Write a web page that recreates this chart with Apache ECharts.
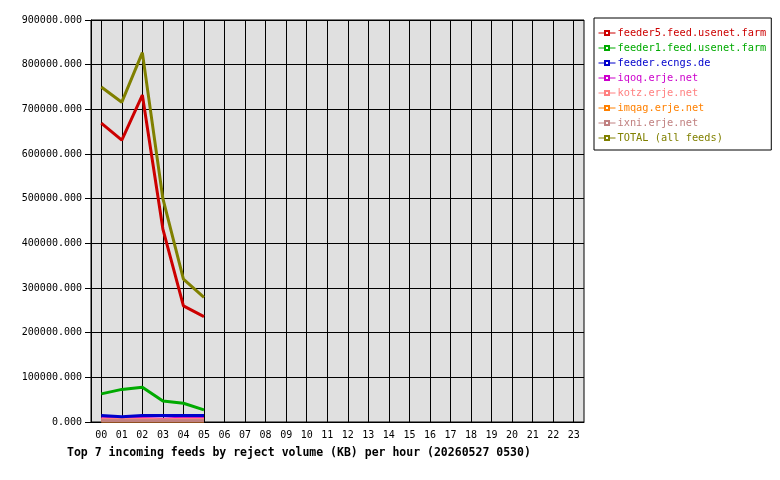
<!DOCTYPE html>
<html>
<head>
<meta charset="utf-8">
<script src="https://cdn.jsdelivr.net/npm/echarts@6/dist/echarts.min.js"></script>
<style>
    html, body { margin: 0; padding: 0; background: #fff; }
    #chart { width: 780px; height: 480px; }
</style>
</head>
<body>
<div id="chart"></div>
<script>
// hours on the x axis
var hours = ['00', '01', '02', '03', '04', '05', '06', '07', '08', '09', '10', '11',
    '12', '13', '14', '15', '16', '17', '18', '19', '20', '21', '22', '23'];

// reject volume in KB, only hours 00..05 have data
var feeder5 = [669000, 631000, 732000, 432000, 260000, 236000];
var feeder1 = [63000, 73000, 78000, 47000, 42000, 27000];
var ecngs = [14500, 12000, 14500, 14500, 14500, 14500];
var iqoq = [7000, 9000, 8000, 6000, 9000, 8000];
var kotz = [6000, 6000, 6000, 5000, 6000, 6000];
var imqag = [2000, 2000, 2000, 2000, 2000, 2000];
var ixni = [3000, 3000, 3000, 3000, 3000, 3000];
var total = [750000, 716000, 827000, 500000, 320000, 279000];

var feedNames = ['feeder5.feed.usenet.farm', 'feeder1.feed.usenet.farm', 'feeder.ecngs.de',
    'iqoq.erje.net', 'kotz.erje.net', 'imqag.erje.net', 'ixni.erje.net', 'TOTAL (all feeds)'];
var feedValues = [feeder5, feeder1, ecngs, iqoq, kotz, imqag, ixni, total];
var feedColors = ['#cc0000', '#00aa00', '#0000cc', '#cc00cc', '#ff8080', '#ff8000', '#c08080', '#808000'];
// draw order: small feeds first, big ones on top
var feedZ = [20, 18, 17, 12, 13, 11, 14, 19];

var font = 'DejaVu Sans Mono';

var chart = echarts.init(document.getElementById('chart'));

var series = feedNames.map(function (name, i) {
    return {
        name: name,
        type: 'line',
        data: feedValues[i],
        color: feedColors[i],
        symbol: 'emptyRect',
        symbolSize: 4,
        showSymbol: false,
        lineStyle: { width: 3, color: feedColors[i] },
        z: feedZ[i],
        animation: false
    };
});

chart.setOption({
    animation: false,
    backgroundColor: '#ffffff',
    title: {
        text: 'Top 7 incoming feeds by reject volume (KB) per hour (20260527 0530)',
        left: 62,
        top: 442,
        textStyle: { fontFamily: font, fontSize: 11.5, fontWeight: 'bold', color: '#000' }
    },
    legend: {
        orient: 'vertical',
        left: 594,
        top: 18,
        padding: [9, 5, 6, 4],
        itemGap: 3,
        itemWidth: 17,
        itemHeight: 5,
        borderColor: '#000',
        borderWidth: 1,
        backgroundColor: '#fff',
        lineStyle: { width: 1 },
        itemStyle: { borderWidth: 1 },
        data: feedNames.map(function (name, i) {
            return { name: name, textStyle: { color: feedColors[i] } };
        }),
        textStyle: { fontFamily: font, fontSize: 10.3, lineHeight: 12, padding: [0, 0, 0, -3] }
    },
    grid: {
        left: 91,
        right: 196,
        top: 20,
        bottom: 58,
        show: true,
        backgroundColor: '#e0e0e0',
        borderColor: '#000',
        borderWidth: 1
    },
    xAxis: {
        type: 'category',
        data: hours,
        boundaryGap: true,
        axisLine: { lineStyle: { color: '#000', width: 1 } },
        axisTick: { alignWithLabel: true, length: 6, lineStyle: { color: '#000' } },
        axisLabel: { fontFamily: font, fontSize: 10, color: '#000', margin: 8, interval: 0 },
        splitLine: { show: true, alignWithLabel: true, lineStyle: { color: '#000', width: 1 } }
    },
    yAxis: {
        type: 'value',
        min: 0,
        max: 900000,
        interval: 100000,
        axisLine: { show: true, lineStyle: { color: '#000' } },
        axisTick: { show: true, length: 6, lineStyle: { color: '#000' } },
        axisLabel: {
            fontFamily: font, fontSize: 10, color: '#000', margin: 9,
            formatter: function (v) { return v.toFixed(3); }
        },
        splitLine: { show: true, lineStyle: { color: '#000', width: 1 } }
    },
    series: series
});
</script>
</body>
</html>
